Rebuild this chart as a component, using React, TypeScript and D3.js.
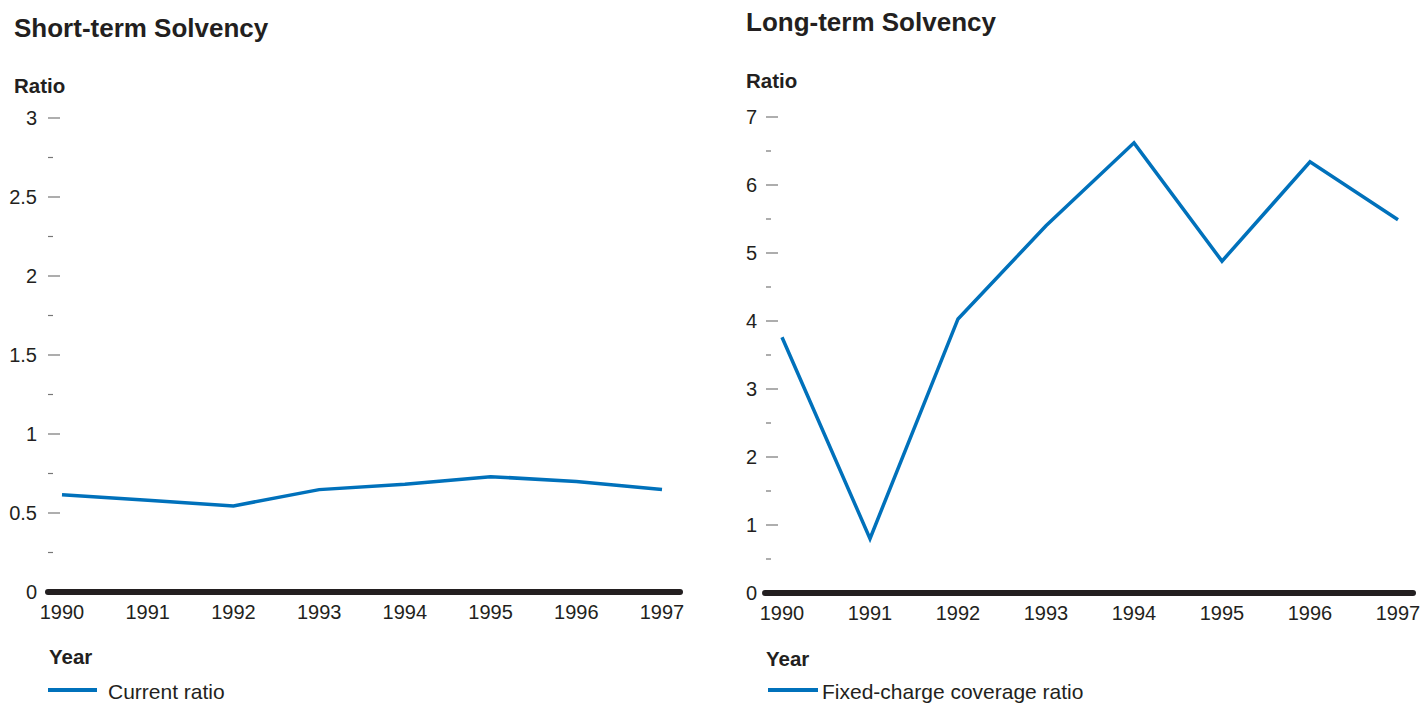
import React from "react";
import * as d3 from "d3";

const years = [1990, 1991, 1992, 1993, 1994, 1995, 1996, 1997];
const currentRatio = [0.615, 0.58, 0.545, 0.648, 0.682, 0.73, 0.7, 0.648];
const fixedChargeRatio = [3.76, 0.8, 4.03, 5.4, 6.62, 4.88, 6.34, 5.49];
const leftMajorTicks = [0, 0.5, 1, 1.5, 2, 2.5, 3];
const leftMinorTicks = [0.25, 0.75, 1.25, 1.75, 2.25, 2.75];
const rightMajorTicks = [0, 1, 2, 3, 4, 5, 6, 7];
const rightMinorTicks = [0.5, 1.5, 2.5, 3.5, 4.5, 5.5, 6.5];

const BLUE = "#0071bb";
const TEXT = "#231f20";
const FONT = "'Liberation Sans', Arial, sans-serif";

type PanelProps = {
  title: string;
  titleY: number;
  ox: number;
  ratioY: number;
  yTop: number;
  yBottom: number;
  yMax: number;
  majors: number[];
  minors: number[];
  axisX0: number;
  axisX1: number;
  xFirst: number;
  xLast: number;
  values: number[];
  yearY: number;
  legendLabel: string;
  legendY: number;
  legendX0: number;
  legendX1: number;
  legendTextX: number;
  labelRight: number;
  tickX0: number;
};

function Panel(p: PanelProps) {
  const x = d3.scaleLinear().domain([years[0], years[years.length - 1]]).range([p.xFirst, p.xLast]);
  const y = d3.scaleLinear().domain([0, p.yMax]).range([p.yBottom, p.yTop]);
  const line = d3
    .line<number>()
    .x((_, i) => x(years[i]))
    .y((d) => y(d));
  const fmt = (v: number) => String(v);
  return (
    <g fontFamily={FONT} fill={TEXT}>
      <text x={p.ox} y={p.titleY} fontSize={26} fontWeight="bold">
        {p.title}
      </text>
      <text x={p.ox} y={p.ratioY} fontSize={20.5} fontWeight="bold">
        Ratio
      </text>
      {p.majors.map((t) => (
        <g key={"M" + t}>
          <line x1={p.tickX0} x2={p.tickX0 + 12} y1={y(t)} y2={y(t)} stroke="#777" strokeWidth={1.2} />
          <text x={p.labelRight} y={y(t)} dy="0.35em" fontSize={20} textAnchor="end">
            {fmt(t)}
          </text>
        </g>
      ))}
      {p.minors.map((t) => (
        <line key={"m" + t} x1={p.tickX0} x2={p.tickX0 + 5} y1={y(t)} y2={y(t)} stroke="#777" strokeWidth={1.2} />
      ))}
      <path d={line(p.values) || ""} fill="none" stroke={BLUE} strokeWidth={3.5} strokeLinejoin="miter" />
      <line
        x1={p.axisX0}
        x2={p.axisX1}
        y1={p.yBottom}
        y2={p.yBottom}
        stroke={TEXT}
        strokeWidth={6}
        strokeLinecap="round"
      />
      {years.map((yr) => (
        <text key={yr} x={x(yr)} y={p.yBottom + 27} fontSize={20} textAnchor="middle">
          {yr}
        </text>
      ))}
      <text x={p.axisX0 + 1} y={p.yearY} fontSize={20.5} fontWeight="bold">
        Year
      </text>
      <line x1={p.legendX0} x2={p.legendX1} y1={p.legendY} y2={p.legendY} stroke={BLUE} strokeWidth={4} />
      <text x={p.legendTextX} y={p.legendY + 2} dy="0.35em" fontSize={21}>
        {p.legendLabel}
      </text>
    </g>
  );
}

export default function App() {
  return (
    <svg width={1423} height={703} style={{ position: "absolute", left: 0, top: 0, background: "#fff" }}>
      <Panel
        title="Short-term Solvency"
        titleY={37}
        ox={14}
        ratioY={93}
        yTop={118}
        yBottom={592}
        yMax={3}
        majors={leftMajorTicks}
        minors={leftMinorTicks}
        axisX0={48}
        axisX1={680}
        xFirst={62}
        xLast={662}
        values={currentRatio}
        yearY={664}
        legendLabel="Current ratio"
        legendY={690}
        legendX0={48}
        legendX1={97}
        legendTextX={108}
        labelRight={37}
        tickX0={48}
      />
      <Panel
        title="Long-term Solvency"
        titleY={31}
        ox={746}
        ratioY={88}
        yTop={117}
        yBottom={593}
        yMax={7}
        majors={rightMajorTicks}
        minors={rightMinorTicks}
        axisX0={765}
        axisX1={1413}
        xFirst={782}
        xLast={1398}
        values={fixedChargeRatio}
        yearY={666}
        legendLabel="Fixed-charge coverage ratio"
        legendY={690}
        legendX0={768}
        legendX1={818}
        legendTextX={822}
        labelRight={757}
        tickX0={766}
      />
    </svg>
  );
}
